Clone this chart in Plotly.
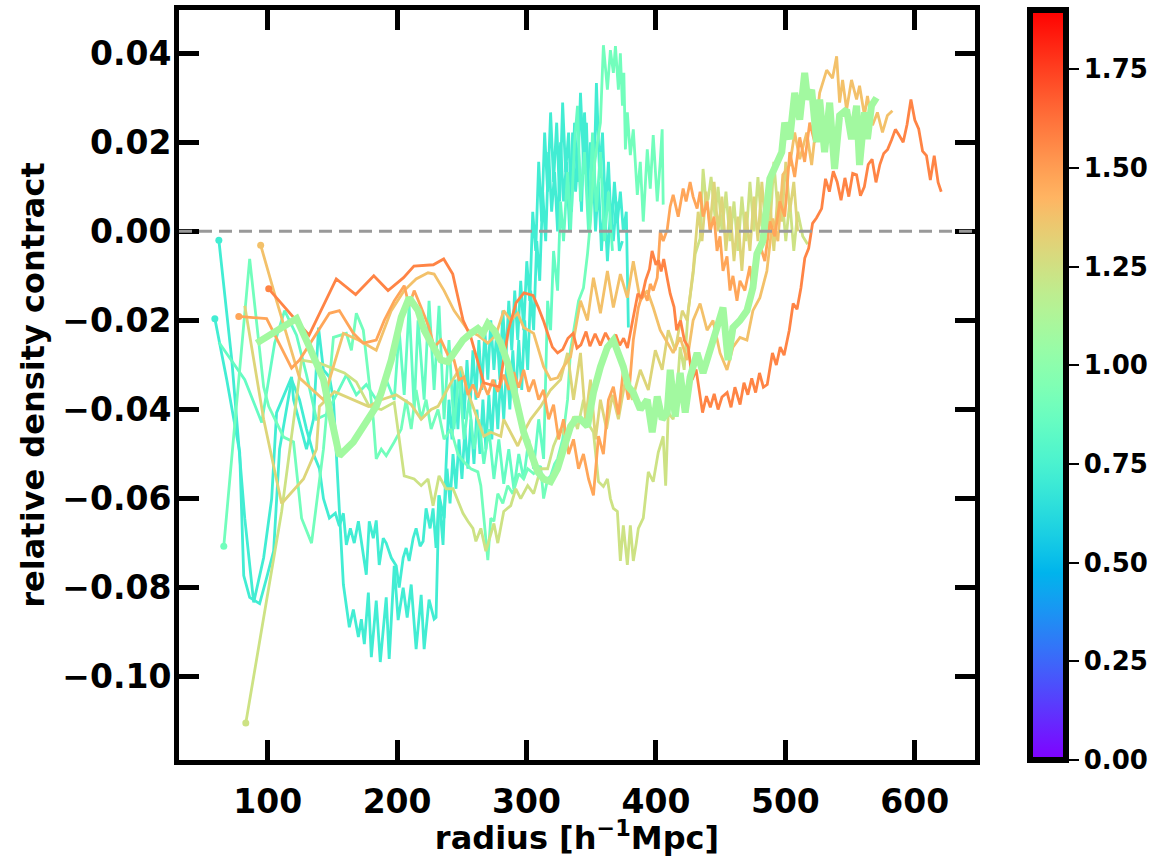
import math
import numpy as np
import plotly.graph_objects as go

VMAX = 1.9

# ---------------- data (radius, relative density contrast) ----------------
C1 = [(62.3,-0.0020),(72.3,-0.0289),(82.3,-0.0644),(89.2,-0.0833),(96.9,-0.0733),(103.1,-0.0600),(106.9,-0.0407),
      (113.1,-0.0362),(118.5,-0.0327),(120.0,-0.0378),(130.0,-0.0489),(135.4,-0.0422),(139.3,-0.0216),(143.1,-0.0311),
      (147.7,-0.0327),(150.8,-0.0378),(155.4,-0.0638),(158.5,-0.0793),(163.1,-0.0889),(166.2,-0.0849),(170.1,-0.0911),
      (172.4,-0.0871),(174.7,-0.0927),(177.8,-0.0811),(180.1,-0.0956),(183.9,-0.0829),(187.0,-0.0967),(191.6,-0.0822),
      (193.9,-0.0960),(197.8,-0.0751),(200.8,-0.0873),(204.7,-0.0800),(207.8,-0.0867),(210.9,-0.0793),(214.7,-0.0938),
      (218.6,-0.0816),(220.9,-0.0938),(224.7,-0.0827),(228.6,-0.0871),(230.1,-0.0867),(232.4,-0.0593),
      (236.3,-0.0644),(238.6,-0.0533),(240.9,-0.0611),(243.2,-0.0500),(245.5,-0.0578),(247.8,-0.0467),(250.1,-0.0556),
      (252.4,-0.0444),(254.7,-0.0533),(257.0,-0.0422),(259.4,-0.0522),(261.7,-0.0400),(264.0,-0.0500),(266.3,-0.0378),
      (268.6,-0.0489),(270.9,-0.0367),(273.2,-0.0467),(275.5,-0.0333),(277.8,-0.0444),(280.1,-0.0322),(282.4,-0.0422),
      (284.8,-0.0289),(287.1,-0.0400),(289.4,-0.0267),(291.7,-0.0378),(294.0,-0.0244),(296.3,-0.0356),(298.6,-0.0200),
      (300.9,-0.0311),(303.2,-0.0133),(305.5,-0.0222),(307.9,-0.0022),(310.2,-0.0111),(312.5,0.0089),(314.8,-0.0022),
      (317.1,0.0178),(319.4,0.0044),(321.7,0.0133),(324.0,0.0000),(326.3,0.0200),(328.6,0.0067),(330.9,0.0156),
      (333.3,0.0000),(335.6,0.0222),(337.9,0.0089),(340.2,0.0178),(342.5,0.0044),(344.8,0.0267),(347.1,0.0111),
      (349.4,0.0200),(351.7,0.0067),(354.0,0.0333),(356.4,0.0133),(358.7,0.0222),(361.0,0.0044),(363.3,0.0156),
      (365.6,0.0000),(367.9,0.0111),(370.2,0.0022),(372.5,0.0089),(374.8,0.0000),(377.1,0.0044),(378.7,-0.0216)]

C2 = [(59.2,-0.0196),(68.4,-0.0333),(78.4,-0.0496),(81.5,-0.0773),(86.1,-0.0822),(93.8,-0.0836),(99.2,-0.0778),
      (104.6,-0.0718),(109.2,-0.0489),(113.1,-0.0422),(118.5,-0.0333),(124.6,-0.0378),(130.0,-0.0444),(135.4,-0.0500),
      (140.0,-0.0533),(143.1,-0.0600),(147.7,-0.0644),(152.3,-0.0633),(155.4,-0.0662),(158.5,-0.0633),(160.8,-0.0704),
      (163.9,-0.0667),(166.9,-0.0700),(170.1,-0.0651),(173.1,-0.0711),(176.2,-0.0771),(178.5,-0.0651),(181.6,-0.0689),
      (183.9,-0.0649),(186.2,-0.0749),(189.3,-0.0689),(191.6,-0.0700),(195.5,-0.0733),(199.3,-0.0751),(201.6,-0.0800),
      (204.7,-0.0733),(207.0,-0.0711),(209.3,-0.0740),(212.4,-0.0689),(214.7,-0.0667),(217.8,-0.0707),(220.1,-0.0696),
      (222.4,-0.0622),(225.5,-0.0667),(227.8,-0.0622),(230.1,-0.0711),(232.4,-0.0593),(235.5,-0.0704),(237.8,-0.0527),
      (240.1,-0.0378),(242.4,-0.0467),(244.7,-0.0333),(247.0,-0.0444),(249.3,-0.0311),(251.7,-0.0422),(254.0,-0.0289),
      (256.3,-0.0400),(258.6,-0.0267),(260.9,-0.0378),(263.2,-0.0244),(265.5,-0.0356),(267.8,-0.0222),(270.1,-0.0333),
      (272.4,-0.0200),(274.8,-0.0311),(277.1,-0.0222),(279.4,-0.0333),(281.7,-0.0178),(284.0,-0.0289),(286.3,-0.0156),
      (288.6,-0.0267),(290.9,-0.0133),(293.2,-0.0244),(295.5,-0.0111),(297.8,-0.0222),(300.2,-0.0067),(302.5,-0.0156),
      (304.8,0.0044),(307.1,-0.0044),(309.4,0.0156),(311.7,0.0022),(314.0,0.0222),(316.3,0.0089),(318.6,0.0267),
      (320.9,0.0111),(323.3,0.0244),(325.6,0.0067),(327.9,0.0289),(330.2,0.0133),(332.5,0.0222),(334.8,0.0044),
      (337.1,0.0244),(339.4,0.0111),(341.7,0.0311),(344.0,0.0156),(346.3,0.0244),(348.7,0.0022),(351.0,0.0178),
      (353.3,0.0000),(355.6,0.0111),(357.9,-0.0044),(360.2,0.0067),(362.5,-0.0067),(364.8,0.0044),(367.1,-0.0022),
      (369.4,0.0067),(371.7,-0.0044),(374.1,-0.0022)]

M2 = [(62.3,-0.0249),(82.3,-0.0333),(95.4,-0.0429),(105.4,-0.0251),(113.1,-0.0178),(122.3,-0.0233),(130.0,-0.0322),
      (137.7,-0.0422),(145.4,-0.0411),(153.1,-0.0367),(160.8,-0.0322),(168.5,-0.0367),(176.2,-0.0344),(183.9,-0.0378),
      (191.6,-0.0333),(197.8,-0.0378),(201.6,-0.0222),(205.5,-0.0367),(209.3,-0.0167),(213.2,-0.0400),(216.2,-0.0200),
      (220.9,-0.0378),(224.7,-0.0156),(228.6,-0.0356),(232.4,-0.0167),(236.3,-0.0422),(240.1,-0.0244),(244.0,-0.0444),
      (247.8,-0.0311),(251.7,-0.0467),(255.5,-0.0378),(259.4,-0.0489),(263.2,-0.0422),(267.0,-0.0522),(270.9,-0.0444),
      (274.8,-0.0556),(278.6,-0.0467),(282.4,-0.0567),(286.3,-0.0489),(290.2,-0.0578),(294.0,-0.0500),(297.8,-0.0556),
      (301.7,-0.0467),(305.5,-0.0533),(309.4,-0.0422),(313.2,-0.0511),(316.3,-0.0156),(318.6,-0.0222),(320.9,-0.0044),
      (324.0,-0.0133),(326.3,0.0067),(328.6,-0.0022),(331.7,0.0133),(334.0,0.0000),(337.1,0.0200),(339.4,0.0282),
      (341.7,0.0067),(344.8,0.0178),(347.9,0.0000),(351.0,0.0222),(354.0,0.0044),(357.1,0.0178),(360.2,-0.0022),
      (363.3,0.0089),(366.4,-0.0044)]

M1 = [(66.1,-0.0707),(86.1,-0.0062),(96.9,-0.0349),(100.8,-0.0393),(112.3,-0.0462),(120.0,-0.0473),(126.2,-0.0644),
      (133.9,-0.0700),(143.1,-0.0489),(150.8,-0.0238),(160.8,-0.0229),(164.7,-0.0267),(168.5,-0.0184),(173.9,-0.0222),
      (181.6,-0.0422),(183.9,-0.0511),(187.8,-0.0489),(191.6,-0.0504),(197.8,-0.0473),(203.2,-0.0444),(207.0,-0.0378),
      (210.9,-0.0444),(214.7,-0.0356),(218.6,-0.0422),(222.4,-0.0378),(226.3,-0.0444),(231.6,-0.0400),(236.3,-0.0467),
      (241.6,-0.0444),(247.0,-0.0500),(251.7,-0.0518),(257.0,-0.0533),(262.4,-0.0540),(264.7,-0.0571),(267.8,-0.0667),
      (270.1,-0.0738),(272.4,-0.0644),(274.8,-0.0651),(277.8,-0.0589),(281.7,-0.0611),(285.5,-0.0571),(289.4,-0.0589),
      (294.0,-0.0544),(297.8,-0.0556),(300.9,-0.0533),(305.5,-0.0544),(310.9,-0.0527),(313.2,-0.0600),(316.3,-0.0556),
      (318.6,-0.0549),(321.7,-0.0522),(324.0,-0.0511),(327.9,-0.0467),(331.7,-0.0378),(334.0,-0.0267),(337.9,-0.0200),
      (340.2,-0.0156),(344.0,-0.0127),(347.1,-0.0051),(349.4,0.0022),(351.7,0.0133),(354.8,0.0200),(357.1,0.0244),
      (359.4,0.0418),(362.5,0.0318),(364.8,0.0407),(367.1,0.0356),(368.7,0.0416),(371.0,0.0318),(372.5,0.0400),
      (374.1,0.0282),(375.2,0.0356),(376.4,0.0184),(377.9,0.0267),(380.2,0.0171),(382.5,0.0229),(385.6,0.0082),
      (387.9,0.0156),(390.2,0.0022),(393.3,0.0184),(395.6,0.0096),(397.9,0.0216),(401.0,0.0067),(403.3,0.0156),
      (404.8,0.0229),(405.6,0.0060)]

TL = [(91.5,-0.0251),(122.3,-0.0196),(132.3,-0.0260),(143.1,-0.0333),(147.7,-0.0400),(155.4,-0.0504),(166.2,-0.0473),
      (173.9,-0.0438),(183.9,-0.0393),(187.8,-0.0362),(195.5,-0.0289),(203.2,-0.0193),(209.3,-0.0149),(216.2,-0.0178),
      (220.9,-0.0222),(226.3,-0.0251),(233.9,-0.0289),(239.3,-0.0293),(244.0,-0.0273),(250.9,-0.0244),(257.0,-0.0229),
      (262.4,-0.0218),(266.3,-0.0229),(270.1,-0.0207),(274.8,-0.0222),(280.1,-0.0251),(285.5,-0.0296),(289.4,-0.0349),
      (293.2,-0.0393),(297.8,-0.0451),(303.2,-0.0496),(308.6,-0.0540),(313.2,-0.0556),(318.6,-0.0562),(324.0,-0.0533),
      (328.6,-0.0489),(334.0,-0.0438),(337.9,-0.0422),(341.7,-0.0422),(347.1,-0.0438),(351.7,-0.0362),(357.1,-0.0304),
      (362.5,-0.0260),(367.1,-0.0244),(371.0,-0.0273),(374.8,-0.0304),(378.7,-0.0349),(382.5,-0.0362),(387.9,-0.0400),
      (393.3,-0.0378),(397.1,-0.0451),(401.0,-0.0371),(404.8,-0.0422),(408.7,-0.0407),(411.0,-0.0311),(414.9,-0.0416),
      (418.7,-0.0318),(422.6,-0.0407),(426.4,-0.0327),(431.8,-0.0273),(436.4,-0.0318),(441.8,-0.0260),(447.2,-0.0216),
      (451.8,-0.0171),(455.7,-0.0289),(459.5,-0.0216),(464.9,-0.0200),(470.3,-0.0178),(474.9,-0.0127),(478.0,-0.0051),
      (482.6,-0.0022),(488.0,0.0118),(493.4,0.0156),(497.2,0.0178),(499.5,0.0244),(503.4,0.0207),(507.2,0.0311),
      (511.1,0.0251),(514.9,0.0356),(517.2,0.0296),(520.3,0.0318),(524.1,0.0200),(526.5,0.0296),(530.3,0.0178),
      (534.2,0.0289),(538.0,0.0140),(541.9,0.0260),(547.3,0.0273),(551.1,0.0207),(555.0,0.0282),(557.3,0.0149),
      (561.1,0.0267),(563.4,0.0207),(566.5,0.0282),(570.4,0.0300)]

K1 = [(83.1,-0.1104),(110.8,-0.0629),(126.2,-0.0289),(140.0,-0.0296),(159.3,-0.0318),(168.5,-0.0338),(178.5,-0.0393),
      (187.8,-0.0400),(197.8,-0.0384),(205.5,-0.0549),(213.2,-0.0556),(218.6,-0.0571),(223.9,-0.0556),(227.8,-0.0616),
      (232.4,-0.0549),(237.8,-0.0578),(243.2,-0.0578),(247.8,-0.0611),(250.9,-0.0633),(254.7,-0.0651),(258.6,-0.0667),
      (260.9,-0.0696),(264.7,-0.0667),(268.6,-0.0718),(272.4,-0.0682),(274.8,-0.0656),(277.8,-0.0700),(282.4,-0.0629),
      (287.8,-0.0616),(291.7,-0.0578),(295.5,-0.0600),(300.9,-0.0571),(305.5,-0.0589),(310.9,-0.0533),(316.3,-0.0533),
      (320.9,-0.0482),(326.3,-0.0444),(331.7,-0.0467),(336.3,-0.0416),(339.4,-0.0444),(344.0,-0.0378),(347.9,-0.0433),
      (351.7,-0.0451),(355.6,-0.0562),(359.4,-0.0573),(362.5,-0.0556),(364.8,-0.0600),(367.1,-0.0622),(370.2,-0.0629),
      (372.5,-0.0740),(374.8,-0.0660),(377.9,-0.0749),(380.2,-0.0660),(382.5,-0.0740),(384.8,-0.0700),(386.4,-0.0667),
      (390.2,-0.0644),(394.1,-0.0540),(397.9,-0.0562),(401.8,-0.0496),(405.6,-0.0460),(407.5,-0.0571),(409.5,-0.0407),
      (413.3,-0.0422),(416.4,-0.0356),(418.7,-0.0260),(421.8,-0.0311),(424.9,-0.0178),(428.7,-0.0096),(430.3,-0.0051),
      (434.1,-0.0016),(436.4,0.0140),(438.7,0.0067),(440.3,0.0073),(442.6,0.0122),(445.6,0.0033),(448.0,0.0100),
      (451.0,0.0000),(454.1,0.0089),(457.2,-0.0022),(460.3,0.0067),(463.3,-0.0044),(466.4,0.0078),(469.5,-0.0022),
      (472.6,0.0111),(475.7,0.0000),(478.8,0.0122),(481.8,0.0011),(484.9,0.0067),(488.0,0.0000),(491.1,0.0156),
      (494.2,0.0044),(497.2,0.0089),(500.3,-0.0022),(503.4,0.0067),(506.5,-0.0044),(509.5,0.0044),(513.4,-0.0011),
      (517.2,-0.0029)]

K2 = [(82.3,-0.0167),(96.9,-0.0422),(110.8,-0.0611),(127.7,-0.0556),(137.7,-0.0489),(140.0,-0.0393),(151.6,-0.0360),
      (166.2,-0.0378),(177.8,-0.0393),(187.8,-0.0378),(199.3,-0.0367),(210.9,-0.0389),(218.6,-0.0422),(226.3,-0.0400),
      (231.6,-0.0393),(241.6,-0.0340),(249.3,-0.0304),(254.7,-0.0362),(262.4,-0.0422),(267.0,-0.0460),(272.4,-0.0451),
      (280.1,-0.0460),(282.4,-0.0422),(287.8,-0.0451),(293.2,-0.0482),(297.8,-0.0451),(303.2,-0.0422),(310.9,-0.0393),
      (318.6,-0.0356),(326.3,-0.0333),(331.7,-0.0273),(336.3,-0.0378),(341.7,-0.0273),(345.6,-0.0422),(349.4,-0.0333),
      (353.3,-0.0467),(357.1,-0.0378),(361.8,-0.0444),(366.4,-0.0367),(371.0,-0.0422),(376.4,-0.0333),(381.8,-0.0378),
      (387.9,-0.0311),(394.1,-0.0356),(399.5,-0.0267),(404.8,-0.0311),(409.5,-0.0222),(414.9,-0.0267),(420.3,-0.0178),
      (424.1,-0.0200),(428.7,-0.0089),(432.6,0.0044),(435.6,-0.0022),(438.7,0.0089),(441.8,0.0011),(444.9,0.0111),
      (448.0,0.0000),(451.0,0.0078),(454.1,-0.0044),(457.2,0.0056),(460.3,-0.0067),(463.3,0.0033),(466.4,-0.0089),
      (469.5,0.0044),(472.6,-0.0044),(475.7,0.0078),(478.8,-0.0022),(481.8,0.0111),(484.9,0.0000),(488.0,0.0067),
      (491.1,-0.0044),(494.2,0.0089),(497.2,0.0022),(500.3,0.0156),(503.4,0.0044),(506.5,0.0111),(509.5,0.0000)]

S1 = [(94.6,-0.0031),(106.9,-0.0156),(124.6,-0.0329),(143.1,-0.0378),(158.5,-0.0229),(170.1,-0.0244),(183.9,-0.0267),
      (195.5,-0.0178),(205.5,-0.0133),(214.7,-0.0107),(223.9,-0.0093),(228.6,-0.0096),(236.3,-0.0133),(244.0,-0.0178),
      (254.7,-0.0222),(262.4,-0.0233),(270.1,-0.0251),(276.3,-0.0233),(282.4,-0.0178),(287.8,-0.0200),(293.2,-0.0184),
      (297.8,-0.0216),(305.5,-0.0229),(313.2,-0.0304),(318.6,-0.0333),(324.0,-0.0329),(328.6,-0.0304),(334.0,-0.0282),
      (341.7,-0.0156),(347.1,-0.0200),(351.7,-0.0104),(357.1,-0.0184),(362.5,-0.0089),(367.1,-0.0171),(372.5,-0.0096),
      (377.9,-0.0149),(382.5,-0.0067),(387.9,-0.0156),(393.3,-0.0133),(397.9,-0.0171),(403.3,-0.0222),(408.7,-0.0251),
      (413.3,-0.0273),(418.7,-0.0238),(424.1,-0.0289),(428.7,-0.0200),(434.1,-0.0162),(439.5,-0.0222),(444.1,-0.0200),
      (449.5,-0.0273),(454.9,-0.0311),(459.5,-0.0260),(464.9,-0.0238),(470.3,-0.0244),(474.9,-0.0178),(480.3,-0.0149),
      (485.7,-0.0089),(490.3,0.0029),(494.2,-0.0022),(498.0,0.0127),(503.4,0.0149),(507.2,0.0222),(511.1,0.0162),
      (516.5,0.0222),(520.3,0.0149),(526.5,0.0311),(531.9,0.0362),(536.4,0.0344),(539.6,0.0393),(541.9,0.0289),
      (544.2,0.0340),(547.3,0.0273),(551.1,0.0340),(555.0,0.0296),(557.3,0.0327),(561.1,0.0260),(563.4,0.0304),
      (567.3,0.0238),(571.1,0.0267),(575.0,0.0222),(578.8,0.0260),(582.7,0.0271)]

O1 = [(77.7,-0.0191),(99.2,-0.0196),(118.5,-0.0307),(124.6,-0.0289),(147.7,-0.0184),(155.4,-0.0178),(166.2,-0.0229),
      (173.9,-0.0251),(183.9,-0.0244),(190.1,-0.0200),(197.8,-0.0156),(205.5,-0.0122),(209.3,-0.0167),(213.2,-0.0133),
      (218.6,-0.0171),(224.7,-0.0216),(228.6,-0.0260),(233.9,-0.0244),(239.3,-0.0278),(244.0,-0.0289),(247.8,-0.0333),
      (251.7,-0.0327),(254.7,-0.0367),(258.6,-0.0344),(262.4,-0.0373),(266.3,-0.0340),(270.1,-0.0367),(274.0,-0.0333),
      (277.8,-0.0360),(282.4,-0.0322),(286.3,-0.0356),(290.2,-0.0316),(294.0,-0.0351),(297.8,-0.0311),(301.7,-0.0360),
      (305.5,-0.0333),(309.4,-0.0378),(313.2,-0.0356),(317.1,-0.0422),(320.9,-0.0389),(324.8,-0.0467),(328.6,-0.0422),
      (332.5,-0.0500),(336.3,-0.0467),(340.2,-0.0533),(344.0,-0.0500),(347.9,-0.0556),(351.7,-0.0593),(355.6,-0.0460),
      (359.4,-0.0500),(363.3,-0.0378),(367.1,-0.0349),(371.0,-0.0411),(374.8,-0.0311),(378.7,-0.0378),(382.5,-0.0244),
      (386.4,-0.0171),(390.2,-0.0133),(393.3,-0.0156),(395.6,-0.0118),(397.9,-0.0133),(401.0,-0.0104),(403.3,0.0000),
      (405.6,-0.0022),(408.7,0.0004),(411.0,0.0056),(413.3,0.0082),(417.2,0.0033),(421.0,0.0096),(423.3,0.0067),
      (426.4,0.0111),(428.7,0.0078),(431.8,0.0051),(434.1,0.0089),(436.4,0.0033),(439.5,0.0067),(441.8,0.0000),
      (444.9,0.0033),(447.2,-0.0044),(449.5,-0.0011),(451.8,-0.0089),(454.9,-0.0056),(457.2,-0.0133),(459.5,-0.0100),
      (462.6,-0.0156),(464.9,-0.0111),(468.7,-0.0133),(472.6,-0.0078),(474.9,-0.0140),(478.0,-0.0044),(480.3,-0.0029),
      (484.1,-0.0067),(488.0,0.0022),(491.8,-0.0011),(495.7,0.0067),(499.5,0.0033),(503.4,0.0178),(507.2,0.0122),
      (511.1,0.0211),(514.9,0.0156),(518.8,0.0244),(522.6,0.0200),(526.5,0.0233)]

R = [(100.8,-0.0129),(132.0,-0.0233),(153.0,-0.0107),(168.0,-0.0142),(182.0,-0.0100),(193.0,-0.0133),(205.0,-0.0104),
     (213.0,-0.0078),(228.0,-0.0075),(236.0,-0.0062),(243.0,-0.0096),(251.0,-0.0200),(257.0,-0.0238),(263.0,-0.0300),
     (267.0,-0.0340),(273.0,-0.0345),(279.0,-0.0349),(286.0,-0.0222),(292.0,-0.0160),(298.0,-0.0138),(305.0,-0.0144),
     (309.0,-0.0170),(313.0,-0.0200),(317.0,-0.0235),(320.0,-0.0260),(324.0,-0.0273),(328.0,-0.0265),(332.0,-0.0240),
     (336.0,-0.0229),(339.0,-0.0262),(342.0,-0.0255),(346.0,-0.0225),(349.0,-0.0258),(353.0,-0.0230),(357.0,-0.0256),
     (361.0,-0.0228),(365.0,-0.0250),(369.0,-0.0232),(372.0,-0.0256),(375.0,-0.0240),(378.0,-0.0262),(382.0,-0.0200),
     (386.0,-0.0140),(389.0,-0.0150),(392.0,-0.0110),(395.0,-0.0085),(397.0,-0.0044),(400.0,-0.0075),(402.0,-0.0065),
     (404.0,-0.0090),(406.0,-0.0062),(409.0,-0.0110),(411.0,-0.0140),(414.0,-0.0170),(416.0,-0.0222),(419.0,-0.0200),
     (422.0,-0.0245),(425.0,-0.0260),(428.0,-0.0333),(431.0,-0.0310),(434.0,-0.0370),(436.0,-0.0407),(439.0,-0.0370),
     (442.0,-0.0395),(445.0,-0.0365),(448.0,-0.0400),(451.0,-0.0372),(455.0,-0.0362),(458.0,-0.0395),(461.0,-0.0350),
     (465.0,-0.0389),(468.0,-0.0340),(471.0,-0.0367),(474.0,-0.0330),(477.0,-0.0362),(480.0,-0.0318),(483.0,-0.0350),
     (486.0,-0.0344),(490.0,-0.0273),(493.0,-0.0300),(496.0,-0.0260),(499.0,-0.0278),(503.0,-0.0222),(506.0,-0.0162),
     (509.0,-0.0175),(512.0,-0.0127),(515.0,-0.0060),(518.0,-0.0038),(521.0,0.0018),(524.0,0.0030),(528.0,0.0051),
     (531.0,0.0118),(534.0,0.0089),(537.0,0.0135),(540.0,0.0111),(543.0,0.0070),(546.0,0.0120),(549.0,0.0078),
     (552.0,0.0130),(555.0,0.0127),(558.0,0.0080),(561.0,0.0100),(564.0,0.0150),(567.0,0.0162),(570.0,0.0110),
     (573.0,0.0150),(576.0,0.0175),(579.0,0.0184),(582.0,0.0205),(585.0,0.0229),(588.0,0.0215),(591.0,0.0200),
     (594.0,0.0240),(597.0,0.0296),(600.0,0.0250),(603.0,0.0230),(606.0,0.0180),(609.0,0.0170),(612.0,0.0115),
     (615.0,0.0170),(618.0,0.0110),(620.4,0.0089)]

# (series, colour value, line width, start marker)
SERIES = [
    (C1, 0.72, 2.8, True), (C2, 0.72, 2.8, True), (M2, 0.85, 2.8, False), (M1, 0.90, 2.8, True),
    (K1, 1.24, 2.8, True), (K2, 1.30, 2.8, False), (S1, 1.38, 2.8, True), (O1, 1.47, 2.8, True),
    (R, 1.57, 2.8, True), (TL, 1.08, 7.0, False),
]
CB_TICKS = [0.0, 0.25, 0.5, 0.75, 1.0, 1.25, 1.5, 1.75]
X_TICKS = [100, 200, 300, 400, 500, 600]
Y_TICKS = [-0.10, -0.08, -0.06, -0.04, -0.02, 0.0, 0.02, 0.04]


def rainbow(t):
    t = min(max(t, 0.0), 1.0)
    r = min(1.0, abs(2 * t - 0.5))
    g = max(0.0, math.sin(math.pi * t))
    b = max(0.0, math.cos(math.pi * t / 2))
    return f"rgb({round(r*255)},{round(g*255)},{round(b*255)})"


colorscale = [[s, rainbow(s)] for s in np.linspace(0, 1, 41)]

FONT = "DejaVu Sans"
fig = go.Figure()

for pts, val, w, dot in SERIES:
    xs = [p[0] for p in pts]
    ys = [p[1] for p in pts]
    col = rainbow(val / VMAX)
    fig.add_trace(go.Scatter(x=xs, y=ys, mode="lines", line=dict(color=col, width=w),
                             showlegend=False, hoverinfo="skip"))
    if dot:
        fig.add_trace(go.Scatter(x=[xs[0]], y=[ys[0]], mode="markers",
                                 marker=dict(color=col, size=7), showlegend=False, hoverinfo="skip"))

# plot area in pixels
L, Rr, T, B = 179, 975, 10, 760
W, H = 1163, 857
PW = Rr - L

# colour bar carrier
fig.add_trace(go.Scatter(
    x=[300], y=[0], mode="markers", showlegend=False, hoverinfo="skip", opacity=0,
    marker=dict(color=[0.5], cmin=0, cmax=VMAX, colorscale=colorscale, showscale=True, size=1,
                colorbar=dict(thickness=36, thicknessmode="pixels", len=1, lenmode="fraction",
                              x=1.0 + (1030 - Rr) / PW, xanchor="left", xpad=0,
                              y=0.5, yanchor="middle", ypad=0,
                              outlinewidth=6, outlinecolor="black",
                              tickmode="array", tickvals=CB_TICKS,
                              ticktext=[f"{v:.2f}" for v in CB_TICKS],
                              ticks="outside", ticklen=10, tickwidth=2, tickcolor="black",
                              tickfont=dict(family=FONT, size=26, color="black", weight="bold")))))

fig.add_shape(type="line", xref="paper", yref="y", x0=0, x1=1, y0=0, y1=0,
              line=dict(color="rgb(153,153,153)", width=3, dash="13px,7px"), layer="above")

axis_common = dict(showline=True, linewidth=5, linecolor="black", mirror="ticks",
                   ticks="inside", ticklen=20, tickwidth=5, tickcolor="black",
                   showgrid=False, zeroline=False, automargin=False,
                   tickfont=dict(family=FONT, size=33, color="black", weight="bold"))

fig.update_xaxes(range=[31.5, 646.5], tickmode="array", tickvals=X_TICKS,
                 ticktext=[str(v) for v in X_TICKS], ticklabelstandoff=8,
                 title=dict(text="radius [h<sup>−1</sup>Mpc]", standoff=8,
                            font=dict(family=FONT, size=32, color="black", weight="bold")),
                 **axis_common)
fig.update_yaxes(range=[-0.1187, 0.0497], tickmode="array", tickvals=Y_TICKS,
                 ticktext=[("−" if v < 0 else "") + f"{abs(v):.2f}" for v in Y_TICKS],
                 ticklabelstandoff=-4,
                 title=dict(text="relative density contract", standoff=10,
                            font=dict(family=FONT, size=32, color="black", weight="bold")),
                 **axis_common)

fig.update_layout(width=W, height=H, margin=dict(l=L, r=W - Rr, t=T, b=H - B, autoexpand=False),
                  paper_bgcolor="white", plot_bgcolor="white")

fig.write_html("out.html", config={"displayModeBar": False, "staticPlot": True},
               post_script="document.body.style.margin='0';document.body.style.overflow='hidden';")
